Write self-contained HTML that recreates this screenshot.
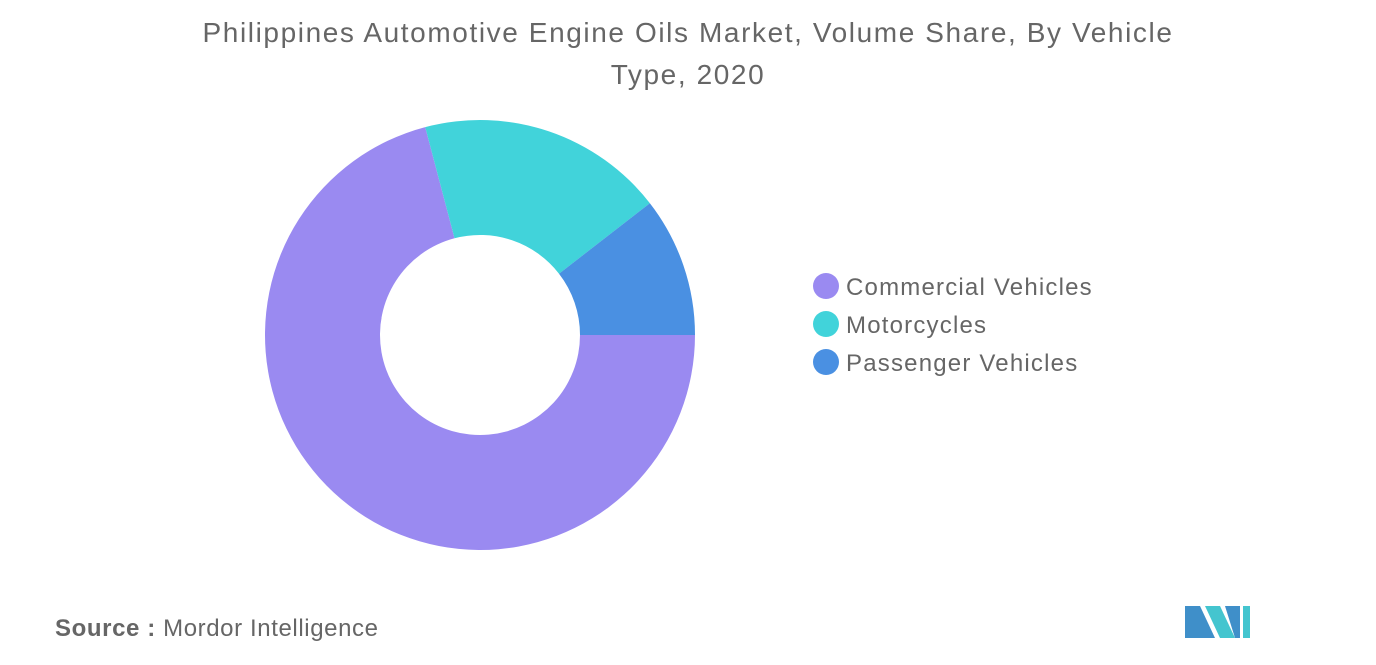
<!DOCTYPE html>
<html><head><meta charset="utf-8"><style>
body{margin:0;width:1376px;height:665px;background:#fff;font-family:"Liberation Sans",sans-serif;overflow:hidden;position:relative}
.t{position:absolute;left:0;width:1376px;text-align:center;color:#666;font-size:28px;letter-spacing:1.6px}
</style></head><body>
<div class="t" style="top:12px;line-height:42px">Philippines Automotive Engine Oils Market, Volume Share, By Vehicle<br>Type, 2020</div>
<svg id="c" width="1376" height="665" style="position:absolute;left:0;top:0">
<g id="slices"></g><g id="legend"></g>
<text x="55" y="636" font-size="24" fill="#666" letter-spacing="0.6"><tspan font-weight="bold">Source :</tspan> Mordor Intelligence</text>
<g>
<polygon points="1185,638 1185,606 1200,606 1215,638" fill="#3f8fc9"/>
<polygon points="1205,606 1220,606 1235,638 1220,638" fill="#44c5cf"/>
<polygon points="1225,606 1240,606 1240,638 1235,638" fill="#3f8fc9"/>
<polygon points="1243,606 1250,606 1250,638 1243,638" fill="#44c5cf"/>
</g>
</svg>
<script>
const categories=["Commercial Vehicles","Motorcycles","Passenger Vehicles"];
const values=[70.9,18.6,10.5];
const colors=["#9a8af1","#41d3da","#4a90e2"];
const cx=480,cy=335,R=215,r=100;
const ns="http://www.w3.org/2000/svg";
const g=document.getElementById('slices');
const total=values.reduce((a,b)=>a+b,0);
let a=0;
function pt(rad,ang){return [cx+rad*Math.cos(ang),cy+rad*Math.sin(ang)];}
values.forEach((v,i)=>{
 const a1=a+v/total*2*Math.PI;
 const L=(a1-a)>Math.PI?1:0;
 const [x0,y0]=pt(R,a),[x1,y1]=pt(R,a1),[x2,y2]=pt(r,a1),[x3,y3]=pt(r,a);
 const p=document.createElementNS(ns,'path');
 p.setAttribute('d',`M${x0},${y0}A${R},${R} 0 ${L} 1 ${x1},${y1}L${x2},${y2}A${r},${r} 0 ${L} 0 ${x3},${y3}Z`);
 p.setAttribute('fill',colors[i]);
 
 
 g.appendChild(p);
 a=a1;
});
const lg=document.getElementById('legend');
categories.forEach((c,i)=>{
 const e=document.createElementNS(ns,'g');
 
 
 const y=286+i*38;
 e.innerHTML=`<circle cx="826" cy="${y}" r="13" fill="${colors[i]}"/><text x="846" y="${y+9}" font-size="24" fill="#666" letter-spacing="1.2">${c}</text>`;
 lg.appendChild(e);
});
</script>
</body></html>
